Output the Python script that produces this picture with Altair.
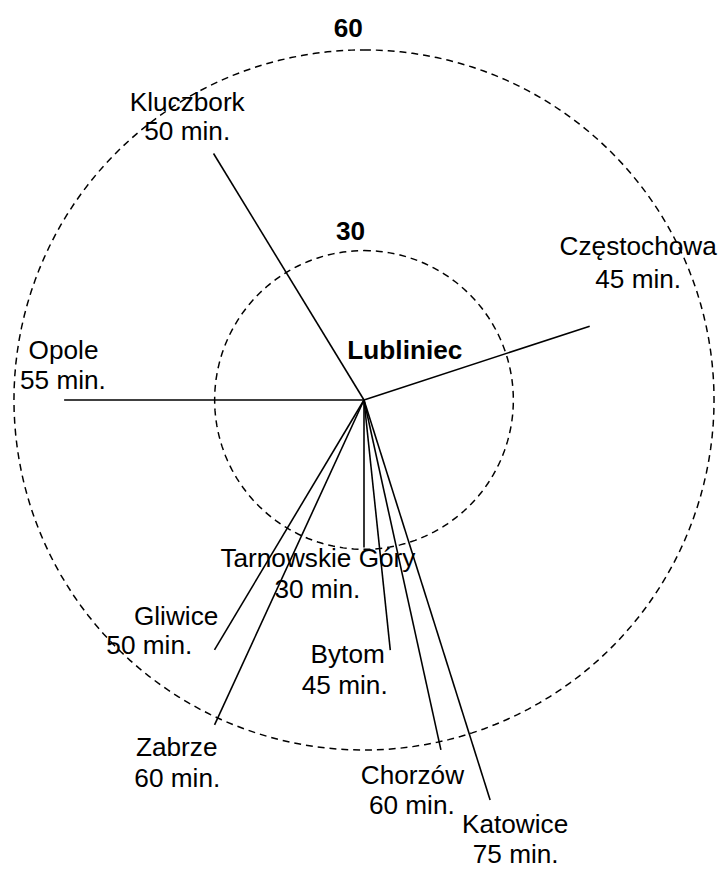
import altair as alt
import pandas as pd

# ---- data ----
hub = "Lubliniec"
destinations = ["Kluczbork", "Częstochowa", "Opole", "Tarnowskie Góry", "Gliwice",
                "Zabrze", "Bytom", "Chorzów", "Katowice"]
minutes = [50, 45, 55, 30, 50, 60, 45, 60, 75]
# compass bearing of each spoke (degrees, clockwise from north)
bearing_deg = [328.6, 71.9, 270.0, 180.0, 210.9, 204.7, 174.0, 167.6, 162.5]
# drawn spoke length, in the units of the ring scale (outer ring = 60)
reach = [49.5, 40.7, 51.4, 25.3, 49.9, 61.3, 43.1, 61.4, 71.9]

ring_labels = ["30", "60"]
ring_radius = [25.6, 60.0]

# ---- layout (label anchors in chart units) ----
name_pos = [(-30.3, 49.6), (47.0, 24.8), (-51.5, 7.0), (-7.9, -28.7), (-32.2, -38.6),
            (-32.1, -61.1), (-2.8, -45.0), (8.3, -65.9), (25.9, -74.3)]
min_pos = [(-30.3, 44.5), (47.0, 19.2), (-51.6, 1.8), (-8.0, -34.0), (-36.8, -43.6),
           (-32.0, -66.4), (-3.3, -50.4), (8.2, -70.9), (26.0, -79.4)]
ring_label_pos = [(-2.3, 27.5), (-2.7, 62.2)]
hub_label_pos = (7.0, 7.0)

W, H = 719, 864
X_DOMAIN = [-61.02, 60.85]
Y_DOMAIN = [-80.08, 66.36]
FONT = "Liberation Sans"
FONT_SIZE = 26.5

xs = alt.Scale(domain=X_DOMAIN, nice=False, zero=False)
ys = alt.Scale(domain=Y_DOMAIN, nice=False, zero=False)

spokes = pd.DataFrame({"dest": destinations, "minutes": minutes,
                       "bearing": bearing_deg, "reach": reach})

ring_rows = []
for lab, r in zip(ring_labels, ring_radius):
    for d in range(0, 361, 2):
        ring_rows.append({"ring": lab, "r": r, "deg": d})
rings = pd.DataFrame(ring_rows)

names = pd.DataFrame({"text": destinations,
                      "x": [p[0] for p in name_pos], "y": [p[1] for p in name_pos]})
mins = pd.DataFrame({"text": [f"{m} min." for m in minutes],
                     "x": [p[0] for p in min_pos], "y": [p[1] for p in min_pos]})
ring_text = pd.DataFrame({"text": ring_labels,
                          "x": [p[0] for p in ring_label_pos], "y": [p[1] for p in ring_label_pos]})
hub_text = pd.DataFrame({"text": [hub], "x": [hub_label_pos[0]], "y": [hub_label_pos[1]]})

ring_layer = alt.Chart(rings).transform_calculate(
    px="datum.r * sin(datum.deg * PI / 180)",
    py="datum.r * cos(datum.deg * PI / 180)",
).mark_line(color="black", strokeWidth=1.5, strokeDash=[7, 5]).encode(
    x=alt.X("px:Q", scale=xs, axis=None),
    y=alt.Y("py:Q", scale=ys, axis=None),
    detail="ring:N",
    order="deg:Q",
)

spoke_layer = alt.Chart(spokes).transform_calculate(
    hx="0", hy="0",
    ex="datum.reach * sin(datum.bearing * PI / 180)",
    ey="datum.reach * cos(datum.bearing * PI / 180)",
).mark_rule(color="black", strokeWidth=1.6).encode(
    x=alt.X("hx:Q", scale=xs, axis=None),
    y=alt.Y("hy:Q", scale=ys, axis=None),
    x2="ex:Q",
    y2="ey:Q",
)


def text_layer(df, bold=False):
    return alt.Chart(df).mark_text(
        font=FONT, fontSize=FONT_SIZE, fontWeight="bold" if bold else "normal",
        align="center", baseline="alphabetic", color="black",
    ).encode(
        x=alt.X("x:Q", scale=xs, axis=None),
        y=alt.Y("y:Q", scale=ys, axis=None),
        text="text:N",
    )


chart = alt.layer(
    ring_layer,
    spoke_layer,
    text_layer(names),
    text_layer(mins),
    text_layer(ring_text, bold=True),
    text_layer(hub_text, bold=True),
).properties(
    width=W, height=H, padding=0,
    autosize=alt.AutoSizeParams(type="none"),
).configure_view(stroke=None)

chart.save("out.html", embed_options={"renderer": "svg", "actions": False})
